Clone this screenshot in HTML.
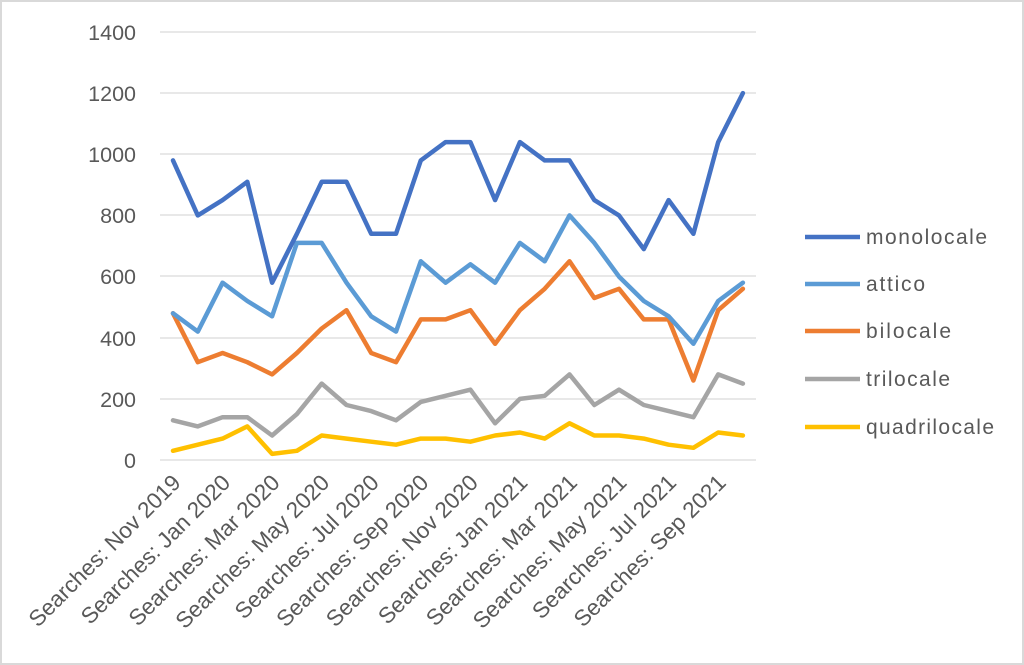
<!DOCTYPE html>
<html><head><meta charset="utf-8"><style>
html,body{margin:0;padding:0;background:#fff;}
svg{display:block;font-family:"Liberation Sans",Arial,sans-serif;}
</style></head><body>
<svg width="1024" height="665" viewBox="0 0 1024 665" xmlns="http://www.w3.org/2000/svg">
<rect x="1" y="1" width="1022" height="663" fill="#fff" stroke="#d9d9d9" stroke-width="2"/>
<g stroke="#d9d9d9" stroke-width="1.3">
<line x1="160" x2="756" y1="32" y2="32"/><line x1="160" x2="756" y1="93" y2="93"/>
<line x1="160" x2="756" y1="154" y2="154"/><line x1="160" x2="756" y1="215" y2="215"/>
<line x1="160" x2="756" y1="276" y2="276"/><line x1="160" x2="756" y1="338" y2="338"/>
<line x1="160" x2="756" y1="399" y2="399"/><line x1="160" x2="756" y1="460" y2="460"/>
</g>
<g font-size="21.5" fill="#595959" text-anchor="end">
<text x="136" y="40">1400</text><text x="136" y="101">1200</text><text x="136" y="162">1000</text>
<text x="136" y="223">800</text><text x="136" y="284">600</text><text x="136" y="346">400</text>
<text x="136" y="407">200</text><text x="136" y="468">0</text>
</g>
<g font-size="22.5" fill="#595959" text-anchor="end">
<text transform="translate(182,484) rotate(-45)">Searches: Nov 2019</text>
<text transform="translate(231.6,484) rotate(-45)">Searches: Jan 2020</text>
<text transform="translate(281.1,484) rotate(-45)">Searches: Mar 2020</text>
<text transform="translate(330.7,484) rotate(-45)">Searches: May 2020</text>
<text transform="translate(380.2,484) rotate(-45)">Searches: Jul 2020</text>
<text transform="translate(429.8,484) rotate(-45)">Searches: Sep 2020</text>
<text transform="translate(479.4,484) rotate(-45)">Searches: Nov 2020</text>
<text transform="translate(528.9,484) rotate(-45)">Searches: Jan 2021</text>
<text transform="translate(578.5,484) rotate(-45)">Searches: Mar 2021</text>
<text transform="translate(628,484) rotate(-45)">Searches: May 2021</text>
<text transform="translate(677.6,484) rotate(-45)">Searches: Jul 2021</text>
<text transform="translate(727.2,484) rotate(-45)">Searches: Sep 2021</text>
</g>
<g fill="none" stroke-width="4.5" stroke-linejoin="round" stroke-linecap="round" id="series"></g>
<g font-size="21" fill="#595959">
<line x1="805" x2="860" y1="237" y2="237" stroke="#4472c4" stroke-width="4.5"/><text x="866" y="244" textLength="121">monolocale</text>
<line x1="805" x2="860" y1="284" y2="284" stroke="#5b9bd5" stroke-width="4.5"/><text x="866" y="291" textLength="59">attico</text>
<line x1="805" x2="860" y1="331" y2="331" stroke="#ed7d31" stroke-width="4.5"/><text x="866" y="338" textLength="85">bilocale</text>
<line x1="805" x2="860" y1="379" y2="379" stroke="#a5a5a5" stroke-width="4.5"/><text x="866" y="386" textLength="84">trilocale</text>
<line x1="805" x2="860" y1="427" y2="427" stroke="#ffc000" stroke-width="4.5"/><text x="866" y="434" textLength="128">quadrilocale</text>
</g>
<script>
var d={
"#ffc000":[30,50,70,110,20,30,80,70,60,50,70,70,60,80,90,70,120,80,80,70,50,40,90,80],
"#a5a5a5":[130,110,140,140,80,150,250,180,160,130,190,210,230,120,200,210,280,180,230,180,160,140,280,250],
"#ed7d31":[480,320,350,320,280,350,430,490,350,320,460,460,490,380,490,560,650,530,560,460,460,260,490,560],
"#5b9bd5":[480,420,580,520,470,710,710,580,470,420,650,580,640,580,710,650,800,710,600,520,470,380,520,580],
"#4472c4":[980,800,850,910,580,740,910,910,740,740,980,1040,1040,850,1040,980,980,850,800,690,850,740,1040,1200]};
var g=document.getElementById("series"),ns="http://www.w3.org/2000/svg";
for(var c in d){var p=d[c].map(function(v,i){return (173+i*24.78).toFixed(1)+","+(460-v*428/1400).toFixed(1)}).join(" ");
var e=document.createElementNS(ns,"polyline");e.setAttribute("points",p);e.setAttribute("stroke",c);g.appendChild(e);}
</script>
</svg>
</body></html>
